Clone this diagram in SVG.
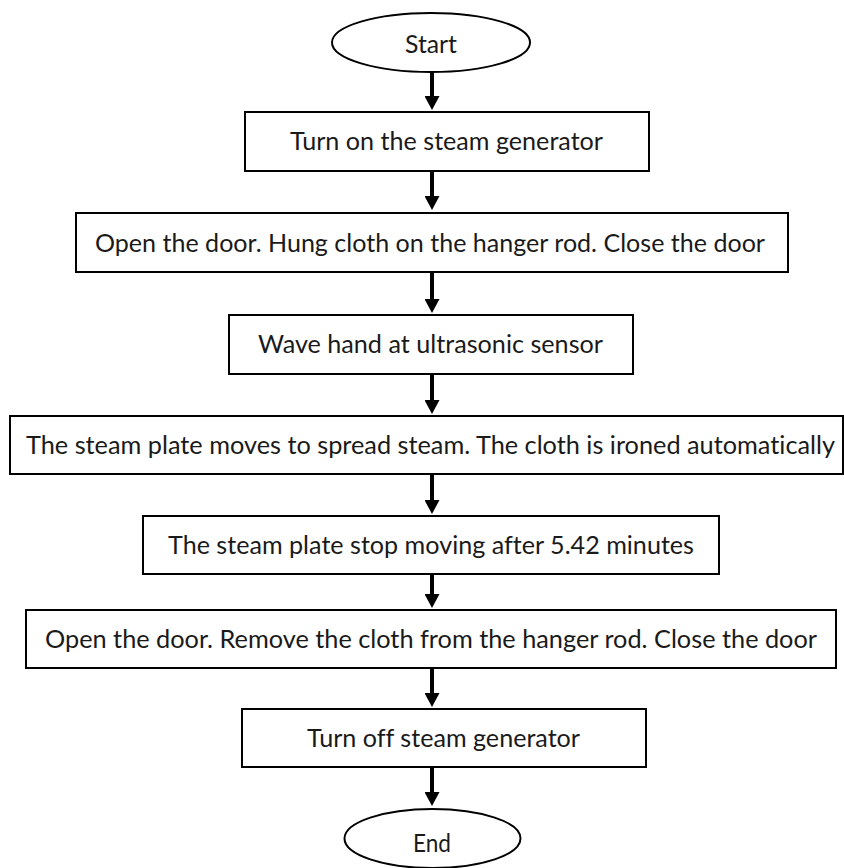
<svg xmlns="http://www.w3.org/2000/svg" width="844" height="868" viewBox="0 0 844 868">
<style>
.shape{fill:#fff;stroke:#000;stroke-width:2}
.lbl{font-family:Lato,"Open Sans","Liberation Sans",sans-serif;font-size:24.5px;fill:#1a1a1a;text-anchor:middle;font-variant-ligatures:none}
.conn{stroke:#000;stroke-width:4;fill:none;marker-end:url(#ah)}
</style>
<defs>
<marker id="ah" markerUnits="userSpaceOnUse" markerWidth="15" markerHeight="15" refX="4" refY="7.5" orient="auto">
<path d="M0,0 L14,7.5 L0,15 z" fill="#000"/>
</marker>
</defs>
<rect width="844" height="868" fill="#fff"/>
<g id="connectors">
<line class="conn" x1="432" y1="72" x2="432" y2="100"/>
<line class="conn" x1="432" y1="171" x2="432" y2="200"/>
<line class="conn" x1="432" y1="272" x2="432" y2="303"/>
<line class="conn" x1="432" y1="374" x2="432" y2="404"/>
<line class="conn" x1="432" y1="474" x2="432" y2="504"/>
<line class="conn" x1="432" y1="574" x2="432" y2="598"/>
<line class="conn" x1="432" y1="668" x2="432" y2="697"/>
<line class="conn" x1="432" y1="767" x2="432" y2="796"/>
</g>
<g id="start">
<ellipse class="shape" cx="431" cy="42.5" rx="99" ry="29.5"/>
<text class="lbl" x="431" y="53" textLength="52" lengthAdjust="spacingAndGlyphs">Start</text>
</g>
<g id="step1">
<rect class="shape" x="245" y="112" width="404" height="59"/>
<text class="lbl" x="446.5" y="150" textLength="313" lengthAdjust="spacingAndGlyphs">Turn on the steam generator</text>
</g>
<g id="step2">
<rect class="shape" x="76" y="213" width="712" height="59"/>
<text class="lbl" x="430" y="252" textLength="670" lengthAdjust="spacingAndGlyphs">Open the door. Hung cloth on the hanger rod. Close the door</text>
</g>
<g id="step3">
<rect class="shape" x="229" y="315" width="404" height="59"/>
<text class="lbl" x="430.5" y="353" textLength="345" lengthAdjust="spacingAndGlyphs">Wave hand at ultrasonic sensor</text>
</g>
<g id="step4">
<rect class="shape" x="10" y="416" width="833" height="58"/>
<text class="lbl" x="430.5" y="454" textLength="809" lengthAdjust="spacingAndGlyphs">The steam plate moves to spread steam. The cloth is ironed automatically</text>
</g>
<g id="step5">
<rect class="shape" x="143" y="516" width="576" height="58"/>
<text class="lbl" x="431" y="554" textLength="526" lengthAdjust="spacingAndGlyphs">The steam plate stop moving after 5.42 minutes</text>
</g>
<g id="step6">
<rect class="shape" x="26" y="610" width="810" height="58"/>
<text class="lbl" x="431" y="648" textLength="772" lengthAdjust="spacingAndGlyphs">Open the door. Remove the cloth from the hanger rod. Close the door</text>
</g>
<g id="step7">
<rect class="shape" x="242" y="709" width="404" height="58"/>
<text class="lbl" x="443.5" y="747" textLength="273" lengthAdjust="spacingAndGlyphs">Turn off steam generator</text>
</g>
<g id="end">
<ellipse class="shape" cx="432.5" cy="838.5" rx="88" ry="29.5"/>
<text class="lbl" x="432" y="852" textLength="38" lengthAdjust="spacingAndGlyphs">End</text>
</g>
</svg>
